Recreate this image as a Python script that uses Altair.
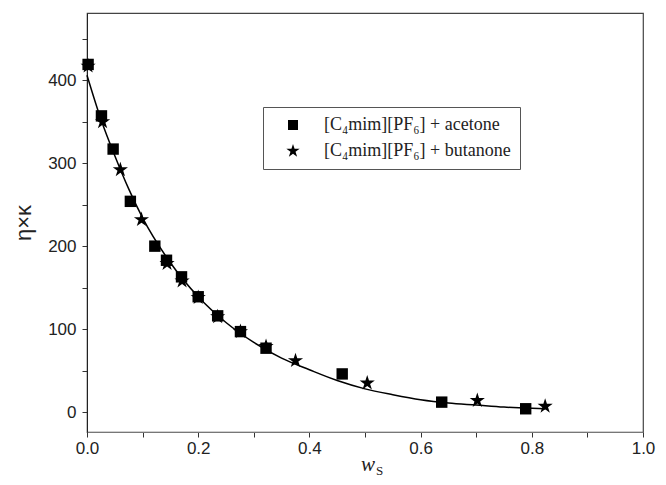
import altair as alt
import pandas as pd

# ---- data ----
acetone_x = [0.002, 0.026, 0.047, 0.078, 0.122, 0.143, 0.170, 0.200, 0.235, 0.276, 0.322, 0.459, 0.638, 0.789]
acetone_y = [419, 357, 317, 254, 200, 183, 163, 139, 116, 97, 77, 46, 12, 4]

butanone_x = [0.002, 0.028, 0.060, 0.098, 0.144, 0.171, 0.200, 0.235, 0.276, 0.322, 0.375, 0.504, 0.702, 0.824]
butanone_y = [417, 350, 292, 232, 179, 158, 138, 115, 97, 79, 62, 35, 14, 7]

fit_x = [0.0, 0.025, 0.05, 0.075, 0.1, 0.15, 0.2, 0.25, 0.3, 0.35, 0.4, 0.45, 0.5, 0.55, 0.6, 0.65, 0.7, 0.75, 0.8, 0.825]
fit_y = [406, 353, 309, 269, 234, 180, 139, 108, 84, 65, 51, 38, 28, 21, 15, 11, 8.5, 6, 4.5, 4]

series_names = ["[C₄mim][PF₆] + acetone", "[C₄mim][PF₆] + butanone"]

STAR = ("M0,-1.4L0.313,-0.43L1.332,-0.433L0.506,0.164L0.823,1.133L0,0.532"
        "L-0.823,1.133L-0.506,0.164L-1.332,-0.433L-0.313,-0.43Z")

pts = pd.DataFrame({
    "x": acetone_x + butanone_x,
    "y": acetone_y + butanone_y,
    "series": [series_names[0]] * len(acetone_x) + [series_names[1]] * len(butanone_x),
})
fit = pd.DataFrame({"x": fit_x, "y": fit_y})

W, H = 556, 419

xscale = alt.Scale(domain=[0, 1.0], nice=False, zero=False)
yscale = alt.Scale(domain=[-24, 481], nice=False, zero=False)

xaxis = alt.Axis(
    values=[round(i * 0.1, 1) for i in range(11)],
    labelExpr="round(datum.value*10) % 2 == 0 ? format(datum.value, '.1f') : ''",
    title=None, grid=False, tickSize=5, labelPadding=3, labelFlush=False,
    domainColor="#777", tickColor="#333", labelColor="#222",
    labelFont="Liberation Sans", labelFontSize=17,
)
yaxis = alt.Axis(
    values=list(range(0, 451, 50)),
    labelExpr="datum.value % 100 == 0 ? format(datum.value, 'd') : ''",
    title="η×κ", grid=False, tickSize=5, labelPadding=6, labelFlush=False,
    domainColor="#222", tickColor="#333", labelColor="#222",
    labelFont="Liberation Sans", labelFontSize=17,
    titleFont="Liberation Sans", titleFontSize=22, titleFontWeight="normal",
    titleColor="#222", titlePadding=12,
)

line = alt.Chart(fit).mark_line(color="black", strokeWidth=1.5, interpolate="monotone").encode(
    x=alt.X("x:Q", scale=xscale, axis=xaxis),
    y=alt.Y("y:Q", scale=yscale, axis=yaxis),
)

points = alt.Chart(pts).mark_point(filled=True, opacity=1, color="black", size=130).encode(
    x=alt.X("x:Q", scale=xscale, axis=xaxis),
    y=alt.Y("y:Q", scale=yscale, axis=yaxis),
    shape=alt.Shape(
        "series:N",
        scale=alt.Scale(domain=series_names, range=["square", STAR]),
        legend=alt.Legend(
            title=None, orient="none", legendX=176, legendY=94,
            labelFont="Liberation Serif", labelFontSize=18, labelColor="#222",
            labelLimit=400,
            symbolSize=100, symbolFillColor="black", symbolStrokeColor="black",
            symbolOffset=12, labelOffset=22, rowPadding=7,
            padding=9, strokeColor="#555", fillColor="white",
        ),
    ),
)

title_w = alt.Chart(pd.DataFrame({"t": ["w"]})).mark_text(
    font="Liberation Serif", fontStyle="italic", fontSize=21, color="#222", baseline="alphabetic", align="center"
).encode(text="t:N", x=alt.value(281), y=alt.value(458))
title_s = alt.Chart(pd.DataFrame({"t": ["S"]})).mark_text(
    font="Liberation Serif", fontSize=13, color="#222", baseline="alphabetic", align="left"
).encode(text="t:N", x=alt.value(289), y=alt.value(462))

chart = alt.layer(line, points, title_w, title_s).properties(
    width=W, height=H,
    autosize=alt.AutoSizeParams(type="none"),
    padding={"left": 79, "top": 5, "right": 15, "bottom": 45},
    background="white",
).configure_view(stroke="#444", strokeWidth=1.2)

chart.save("out.html", embed_options={"renderer": "svg", "actions": False})
